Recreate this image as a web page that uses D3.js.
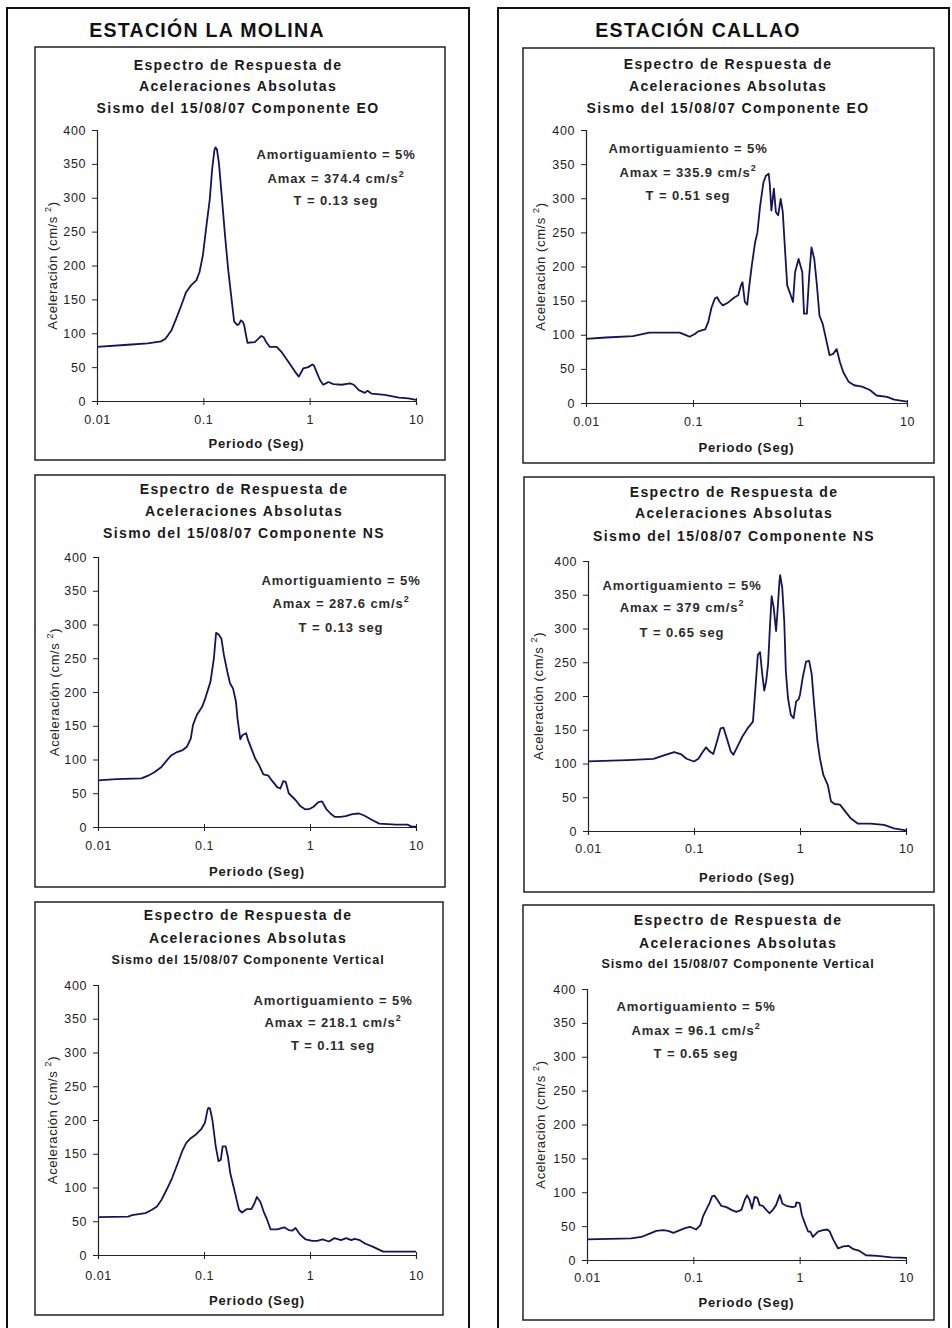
<!DOCTYPE html>
<html>
<head>
<meta charset="utf-8">
<script src="https://cdn.jsdelivr.net/npm/d3@7"></script>
<style>
  body { margin: 0; background: #fff; }
  svg { display: block; }
  text { font-family: "Liberation Sans", Arial, sans-serif; }
</style>
</head>
<body>
<svg id="chart" width="952" height="1328"></svg>
<script>
// ---- Axis ticks ----
const xTickValues = [0.01, 0.1, 1, 10];
const xTickLabels = ["0.01", "0.1", "1", "10"];
const yTickValues = [0, 50, 100, 150, 200, 250, 300, 350, 400];

// ---- Station headings ----
const stationNames = ["ESTACIÓN LA MOLINA", "ESTACIÓN CALLAO"];

// ---- Chart titles and annotation texts ----
const titleLine1 = "Espectro de Respuesta de";
const titleLine2 = "Aceleraciones Absolutas";
const components = ["EO", "EO", "NS", "NS", "Vertical", "Vertical"];
const dampingText = "Amortiguamiento = 5%";
const amaxValues = ["374.4", "335.9", "287.6", "379", "218.1", "96.1"];
const peakPeriods = ["0.13", "0.51", "0.13", "0.65", "0.11", "0.65"];

// ---- Spectra: period (s) and absolute acceleration (cm/s²) ----
const molinaEO_T = [0.01, 0.0195, 0.03, 0.04, 0.044, 0.047, 0.05, 0.0557, 0.062, 0.069, 0.077, 0.086, 0.092, 0.099, 0.107, 0.115, 0.121, 0.127, 0.13, 0.134, 0.14, 0.148, 0.159, 0.171, 0.184, 0.195, 0.209, 0.218, 0.225, 0.235, 0.242, 0.25, 0.26, 0.305, 0.33, 0.35, 0.37, 0.39, 0.42, 0.49, 0.54, 0.63, 0.73, 0.79, 0.83, 0.87, 0.97, 1.06, 1.1, 1.14, 1.25, 1.34, 1.42, 1.5, 1.67, 2.0, 2.4, 2.6, 2.9, 3.3, 3.5, 3.8, 5.1, 6.9, 8.5, 10];
const molinaEO_A = [80, 83, 85, 88, 92, 98, 104, 122, 141, 161, 171, 178, 190, 215, 259, 298, 342, 370, 374.4, 372, 352, 308, 249, 195, 151, 117, 112, 114, 119, 117, 112, 100, 86, 87, 92, 96, 94, 87, 80, 80, 73, 58, 43, 36, 42, 48, 50, 54, 52, 46, 31, 24, 26, 28, 25, 24, 26, 24, 16, 12, 15, 11, 9, 5, 4, 1.5];

const callaoEO_T = [0.01, 0.0154, 0.0275, 0.039, 0.075, 0.087, 0.093, 0.104, 0.112, 0.13, 0.139, 0.149, 0.16, 0.168, 0.178, 0.19, 0.212, 0.245, 0.265, 0.28, 0.29, 0.305, 0.321, 0.336, 0.354, 0.381, 0.4, 0.424, 0.455, 0.48, 0.51, 0.523, 0.54, 0.57, 0.595, 0.625, 0.66, 0.69, 0.73, 0.76, 0.81, 0.86, 0.9, 0.97, 1.05, 1.09, 1.16, 1.22, 1.28, 1.36, 1.44, 1.52, 1.63, 1.75, 1.89, 2.04, 2.2, 2.36, 2.54, 2.85, 3.2, 3.8, 4.5, 5.2, 6.5, 7.6, 10];
const callaoEO_A = [94, 96, 98, 103, 103, 99, 97, 101, 105, 108, 119, 140, 153, 155, 148, 143, 147, 155, 158, 172, 177, 148, 144, 172, 201, 236, 250, 289, 323, 333, 335.9, 319, 282, 314, 280, 275, 299, 280, 216, 172, 160, 148, 192, 211, 192, 131, 131, 187, 228, 211, 172, 128, 116, 94, 70, 72, 79, 60, 45, 31, 26, 24, 19, 11, 9, 5, 2];

const molinaNS_T = [0.01, 0.0149, 0.0257, 0.0297, 0.034, 0.0397, 0.0448, 0.049, 0.0557, 0.063, 0.069, 0.075, 0.0787, 0.0855, 0.096, 0.103, 0.115, 0.124, 0.13, 0.138, 0.146, 0.154, 0.166, 0.176, 0.188, 0.2, 0.207, 0.22, 0.23, 0.25, 0.26, 0.28, 0.305, 0.33, 0.363, 0.405, 0.436, 0.49, 0.525, 0.56, 0.59, 0.63, 0.73, 0.81, 0.904, 1.0, 1.08, 1.2, 1.3, 1.42, 1.56, 1.71, 1.94, 2.17, 2.51, 2.9, 3.24, 3.9, 4.5, 6.5, 8.3, 9.0, 10];
const molinaNS_A = [69, 71, 72, 76, 81, 89, 99, 106, 111, 114, 119, 131, 151, 166, 178, 191, 215, 250, 287.6, 285, 279, 255, 230, 213, 205, 186, 161, 130, 136, 139, 129, 116, 101, 92, 78, 76, 69, 59, 57, 68, 67, 50, 40, 31, 26, 27, 30, 37, 38, 27, 20, 15, 15, 16, 19, 20, 17, 10, 5, 3.5, 3.5, 1, 0.5];

const callaoNS_T = [0.01, 0.0235, 0.0415, 0.052, 0.065, 0.075, 0.085, 0.1, 0.11, 0.122, 0.13, 0.14, 0.152, 0.165, 0.178, 0.19, 0.206, 0.222, 0.235, 0.257, 0.286, 0.32, 0.36, 0.38, 0.4, 0.42, 0.44, 0.46, 0.48, 0.5, 0.52, 0.54, 0.565, 0.595, 0.62, 0.64, 0.65, 0.68, 0.71, 0.735, 0.77, 0.82, 0.87, 0.92, 0.97, 1.0, 1.06, 1.14, 1.22, 1.29, 1.36, 1.46, 1.54, 1.66, 1.83, 1.96, 2.12, 2.38, 2.67, 3.0, 3.5, 4.6, 6.2, 7.7, 10];
const callaoNS_A = [103, 105, 107, 112, 117, 114, 107, 103, 107, 118, 124, 118, 114, 133, 152, 153, 135, 118, 113, 125, 140, 152, 162, 212, 261, 265, 233, 208, 222, 247, 301, 348, 331, 296, 336, 370, 379, 360, 311, 237, 197, 172, 167, 192, 195, 202, 227, 251, 252, 232, 187, 133, 108, 83, 68, 44, 40, 39, 29, 19, 11, 11, 9, 4, 1];

const molinaV_T = [0.01, 0.0192, 0.021, 0.028, 0.0323, 0.036, 0.0398, 0.0445, 0.05, 0.056, 0.062, 0.068, 0.075, 0.0832, 0.0947, 0.102, 0.108, 0.11, 0.114, 0.12, 0.129, 0.137, 0.144, 0.15, 0.16, 0.168, 0.177, 0.19, 0.203, 0.214, 0.228, 0.254, 0.28, 0.3, 0.315, 0.34, 0.366, 0.39, 0.425, 0.49, 0.57, 0.63, 0.68, 0.73, 0.8, 0.91, 1.05, 1.17, 1.31, 1.51, 1.7, 1.96, 2.2, 2.45, 2.64, 2.95, 3.3, 3.95, 4.9, 6.6, 10];
const molinaV_A = [56, 57, 59, 62, 67, 72, 82, 97, 114, 134, 153, 166, 173, 178, 187, 196, 215, 218.1, 217, 200, 161, 139, 141, 161, 161, 146, 121, 101, 82, 67, 63, 68, 68, 77, 86, 79, 64, 54, 38, 38, 41, 37, 36, 40, 31, 23, 21, 21, 23, 20, 25, 22, 25, 22, 24, 22, 17, 12, 5, 5, 5];

const callaoV_T = [0.01, 0.026, 0.0324, 0.0388, 0.0449, 0.052, 0.058, 0.065, 0.072, 0.0835, 0.093, 0.106, 0.117, 0.123, 0.132, 0.142, 0.15, 0.158, 0.168, 0.183, 0.205, 0.228, 0.254, 0.283, 0.305, 0.32, 0.338, 0.356, 0.377, 0.4, 0.42, 0.45, 0.485, 0.52, 0.56, 0.6, 0.65, 0.69, 0.75, 0.855, 0.915, 0.93, 1.0, 1.05, 1.12, 1.2, 1.26, 1.33, 1.49, 1.66, 1.82, 1.92, 2.07, 2.3, 2.57, 2.88, 3.2, 3.6, 4.2, 5.4, 7.3, 10];
const callaoV_A = [30.5, 32, 34, 39, 43, 44, 43, 40, 43, 47, 49, 45, 52, 64, 74, 84, 94, 95, 89, 80, 78, 74, 71, 74, 89, 95.5, 89, 76, 93, 92, 81, 80, 74, 69, 74, 81, 96.1, 83, 80, 78, 79, 85, 84, 66, 54, 42, 42, 34, 42, 44, 45, 42, 30, 17, 20, 21, 16, 14, 7, 6, 4, 3];

const spectra = [
  [molinaEO_T, molinaEO_A], [callaoEO_T, callaoEO_A],
  [molinaNS_T, molinaNS_A], [callaoNS_T, callaoNS_A],
  [molinaV_T, molinaV_A], [callaoV_T, callaoV_A]
];

// ---- Page layout (pixel geometry of frames and panels) ----
const frames = [
  { x0: 7, y0: 8, x1: 469, y1: 1340 },
  { x0: 498, y0: 8, x1: 949, y1: 1340 }
];
const headings = [{ cx: 207, by: 37 }, { cx: 698, by: 37 }];

const layouts = [
  { box: [35, 47, 445, 460], tcx: 238, tb: [70, 91, 113], px: [97, 416], py: [401, 130], acx: 336, ab: [159, 183, 205], xtb: 424, xlb: 448, ylx: 57 },
  { box: [523, 48, 934, 463], tcx: 728, tb: [69, 91, 113], px: [586, 907], py: [403, 130], acx: 688, ab: [153, 177, 200], xtb: 426, xlb: 452, ylx: 545 },
  { box: [35, 475, 445, 887], tcx: 244, tb: [494, 516, 538], px: [98, 416], py: [827, 557], acx: 341, ab: [585, 608, 632], xtb: 850, xlb: 876, ylx: 59 },
  { box: [524, 477, 934, 892], tcx: 734, tb: [497, 518, 541], px: [588, 906], py: [831, 561], acx: 682, ab: [590, 612, 637], xtb: 853, xlb: 882, ylx: 543 },
  { box: [35, 902, 443, 1315], tcx: 248, tb: [920, 943, 964], px: [98, 416], py: [1255, 985], acx: 333, ab: [1005, 1027, 1050], xtb: 1280, xlb: 1305, ylx: 57 },
  { box: [523, 905, 934, 1320], tcx: 738, tb: [925, 948, 968], px: [587, 906], py: [1260, 989], acx: 696, ab: [1011, 1035, 1058], xtb: 1282, xlb: 1307, ylx: 545 }
];

const lineColor = "#14145c";
const svg = d3.select("#chart");

svg.append("rect").attr("width", 952).attr("height", 1328).attr("fill", "#fff");

// Outer station frames
frames.forEach(f => {
  svg.append("rect")
    .attr("x", f.x0).attr("y", f.y0)
    .attr("width", f.x1 - f.x0).attr("height", f.y1 - f.y0)
    .attr("fill", "none").attr("stroke", "#111").attr("stroke-width", 2);
});

// Station headings
stationNames.forEach((name, i) => {
  svg.append("text")
    .attr("x", headings[i].cx).attr("y", headings[i].by)
    .attr("text-anchor", "middle")
    .attr("font-size", 19.5).attr("font-weight", "bold")
    .attr("letter-spacing", 1.3)
    .attr("fill", "#111")
    .text(name);
});

spectra.forEach(([T, A], i) => {
  const L = layouts[i];
  const g = svg.append("g");

  // Panel box
  g.append("rect")
    .attr("x", L.box[0]).attr("y", L.box[1])
    .attr("width", L.box[2] - L.box[0]).attr("height", L.box[3] - L.box[1])
    .attr("fill", "#fff").attr("stroke", "#222").attr("stroke-width", 1.5);

  // Title
  const isVert = components[i] === "Vertical";
  const titles = [titleLine1, titleLine2, "Sismo del 15/08/07 Componente " + components[i]];
  titles.forEach((t, k) => {
    g.append("text")
      .attr("x", L.tcx).attr("y", L.tb[k])
      .attr("text-anchor", "middle")
      .attr("font-size", (k === 2 && isVert) ? 12.5 : 14)
      .attr("font-weight", "bold")
      .attr("letter-spacing", (k === 2 && isVert) ? 0.9 : 1.4)
      .attr("fill", "#1a1a1a")
      .text(t);
  });

  const x = d3.scaleLog().domain([0.01, 10]).range(L.px);
  const y = d3.scaleLinear().domain([0, 400]).range(L.py);

  // Y axis
  const yAxis = g.append("g")
    .attr("transform", `translate(${L.px[0]},0)`)
    .call(d3.axisLeft(y).tickValues(yTickValues).tickSize(5).tickPadding(6).tickFormat(d3.format("d")));
  yAxis.select(".domain").attr("stroke", "#222").attr("stroke-width", 1.2);
  yAxis.selectAll(".tick line").attr("stroke", "#222");
  yAxis.selectAll(".tick text")
    .attr("font-size", 12.5).attr("letter-spacing", 0.6)
    .attr("fill", "#222")
    .attr("font-family", "'Liberation Sans', Arial, sans-serif");

  // X axis
  const xfs = 12.5, xts = 4;
  const xAxis = g.append("g")
    .attr("transform", `translate(0,${L.py[0]})`)
    .call(d3.axisBottom(x).tickValues(xTickValues).tickSize(xts)
      .tickPadding(L.xtb - L.py[0] - xts - 0.71 * xfs)
      .tickFormat((d, j) => xTickLabels[j]));
  xAxis.select(".domain").attr("stroke", "#222").attr("stroke-width", 1.2);
  xAxis.selectAll(".tick line").attr("stroke", "#222").attr("y1", -3);
  xAxis.selectAll(".tick text")
    .attr("font-size", xfs).attr("letter-spacing", 0.6)
    .attr("fill", "#222")
    .attr("font-family", "'Liberation Sans', Arial, sans-serif");

  // Axis titles
  g.append("text")
    .attr("x", (L.px[0] + L.px[1]) / 2).attr("y", L.xlb)
    .attr("text-anchor", "middle")
    .attr("font-size", 13).attr("font-weight", "bold").attr("letter-spacing", 0.9)
    .attr("fill", "#1a1a1a")
    .text("Periodo (Seg)");

  const yl = g.append("text")
    .attr("transform", `translate(${L.ylx},${(L.py[0] + L.py[1]) / 2}) rotate(-90)`)
    .attr("text-anchor", "middle")
    .attr("font-size", 13).attr("letter-spacing", 0.6)
    .attr("fill", "#222");
  yl.append("tspan").text("Aceleración (cm/s ");
  yl.append("tspan").attr("dy", -6).attr("font-size", 9).text("2");
  yl.append("tspan").attr("dy", 6).text(")");

  // Annotation block
  const ann = [dampingText, null, "T = " + peakPeriods[i] + " seg"];
  ann.forEach((t, k) => {
    const tx = g.append("text")
      .attr("x", L.acx).attr("y", L.ab[k])
      .attr("text-anchor", "middle")
      .attr("font-size", 13).attr("font-weight", "bold").attr("letter-spacing", 0.9)
      .attr("fill", "#2b2b2b");
    if (t) tx.text(t);
    else {
      tx.append("tspan").text("Amax = " + amaxValues[i] + " cm/s");
      tx.append("tspan").attr("dy", -6).attr("font-size", 9).text("2");
    }
  });

  // Spectrum curve
  const pts = T.map((t, j) => [t, A[j]]);
  g.append("path")
    .datum(pts)
    .attr("fill", "none")
    .attr("stroke", lineColor)
    .attr("stroke-width", 1.8)
    .attr("stroke-linejoin", "round")
    .attr("d", d3.line().x(d => x(d[0])).y(d => y(d[1])));
});
</script>
</body>
</html>
